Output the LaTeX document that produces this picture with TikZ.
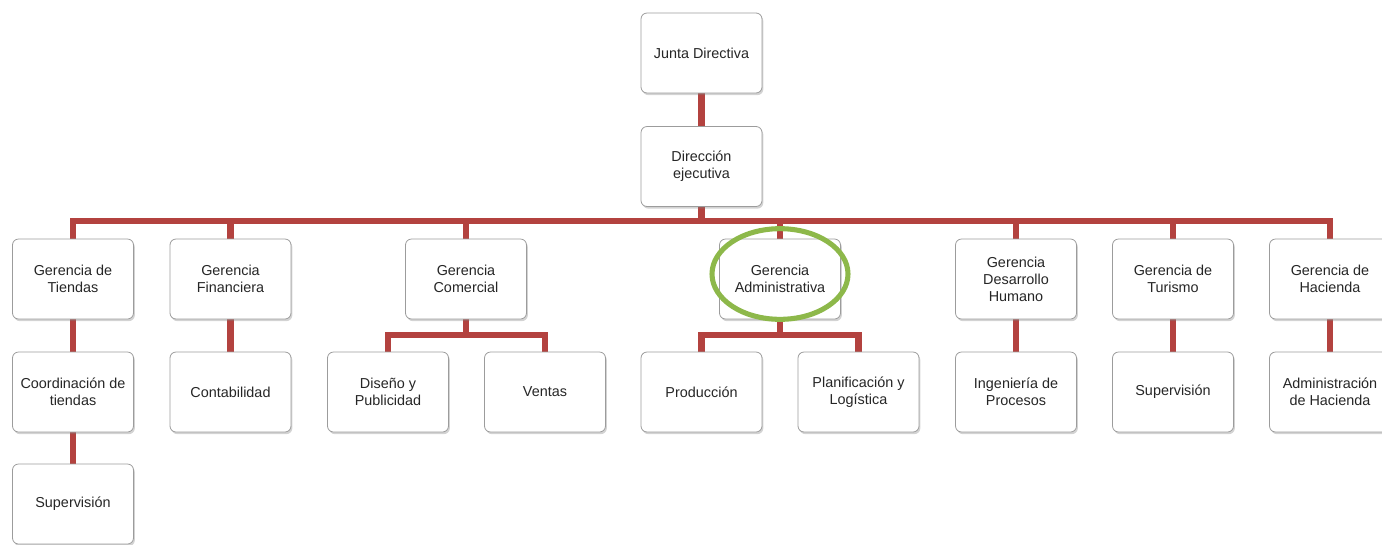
\documentclass[tikz,border=0pt]{standalone}
\usepackage{fontspec}
\setmainfont{Liberation Sans}
\usetikzlibrary{shadows,backgrounds}
\definecolor{linkred}{HTML}{B3423F}
\definecolor{boxgray}{HTML}{9C9C9C}
\definecolor{markgreen}{HTML}{8DB84A}
\tikzset{
  unit/.style={draw=boxgray, fill=white, rounded corners=4.5pt, line width=0.6pt,
    minimum width=90.75pt, minimum height=60pt, inner sep=1pt, align=center,
    font=\fontsize{10.8}{12.75}\selectfont, text=black!85,
    drop shadow={opacity=0.35, shadow xshift=1pt, shadow yshift=-1.6pt}},
  link/.style={draw=linkred, line width=4.6pt}
}
\begin{document}
\begin{tikzpicture}[x=0.75pt,y=-0.75pt]
  \useasboundingbox (0,0) rectangle (1382,544);
  % top
  \node[unit] (junta) at (701.5,53) {Junta Directiva};
  \node[unit] (dir) at (701.5,166.5) {Dirección\\ejecutiva};
  % gerencias
  \node[unit] (tiendas) at (73,279) {Gerencia de\\Tiendas};
  \node[unit] (fin) at (230.5,279) {Gerencia\\Financiera};
  \node[unit] (com) at (466,279) {Gerencia\\Comercial};
  \node[unit] (adm) at (780,279) {Gerencia\\Administrativa};
  \node[unit] (desa) at (1016,279) {Gerencia\\Desarrollo\\Humano};
  \node[unit] (tur) at (1173,279) {Gerencia de\\Turismo};
  \node[unit] (hac) at (1330,279) {Gerencia de\\Hacienda};
  % third row
  \node[unit] (coord) at (73,392) {Coordinación de\\tiendas};
  \node[unit] (conta) at (230.5,392) {Contabilidad};
  \node[unit] (diseno) at (388,392) {Diseño y\\Publicidad};
  \node[unit] (ventas) at (545,392) {Ventas};
  \node[unit] (prod) at (701.5,392) {Producción};
  \node[unit] (plan) at (858.5,392) {Planificación y\\Logística};
  \node[unit] (ing) at (1016,392) {Ingeniería de\\Procesos};
  \node[unit] (supt) at (1173,392) {Supervisión};
  \node[unit] (admhac) at (1330,392) {Administración\\de Hacienda};
  % fourth row
  \node[unit] (sup) at (73,504) {Supervisión};
  \coordinate (bus) at (701.5,221);
  \coordinate (combus) at (466,335);
  \coordinate (admbus) at (780,335);
  \begin{scope}[on background layer]
    \draw[link] (junta) -- (dir);
    \draw[link] (dir) -- (bus);
    \draw[link] (tiendas.north) |- (bus) -| (hac.north);
    \draw[link] (fin.north) -- (fin.north |- bus);
    \draw[link] (com.north) -- (com.north |- bus);
    \draw[link] (adm.north) -- (adm.north |- bus);
    \draw[link] (desa.north) -- (desa.north |- bus);
    \draw[link] (tur.north) -- (tur.north |- bus);
    \draw[link] (tiendas) -- (coord);
    \draw[link] (coord) -- (sup);
    \draw[link] (fin) -- (conta);
    \draw[link] (com) -- (combus);
    \draw[link] (diseno.north) |- (combus) -| (ventas.north);
    \draw[link] (adm) -- (admbus);
    \draw[link] (prod.north) |- (admbus) -| (plan.north);
    \draw[link] (desa) -- (ing);
    \draw[link] (tur) -- (supt);
    \draw[link] (hac) -- (admhac);
  \end{scope}
  % highlight
  \draw[markgreen, line width=3.8pt] (780,274) ellipse (51pt and 34pt);
\end{tikzpicture}
\end{document}
